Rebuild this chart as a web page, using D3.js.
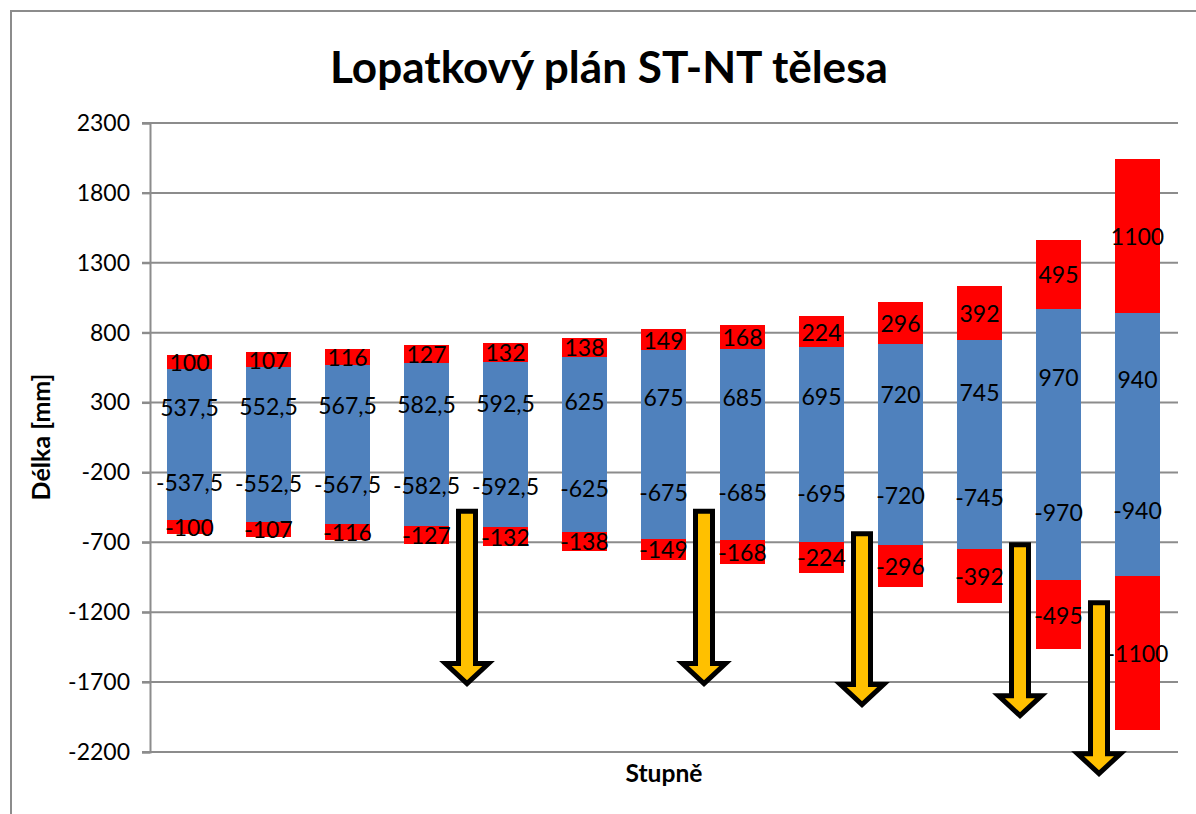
<!DOCTYPE html>
<html>
<head>
<meta charset="utf-8">
<script src="https://cdn.jsdelivr.net/npm/d3@7"></script>
<style>
  html, body { margin: 0; padding: 0; background: #fff; }
  svg { display: block; font-family: Lato, "Open Sans", sans-serif; }
</style>
</head>
<body>
<svg id="chart" width="1196" height="814"></svg>
<script>
// Stage numbers (no labels drawn on the category axis)
const stages = ["1", "2", "3", "4", "5", "6", "7", "8", "9", "10", "11", "12", "13"];
// Half-length of the blade body per stage [mm]
const bladeHalf = [537.5, 552.5, 567.5, 582.5, 592.5, 625, 675, 685, 695, 720, 745, 970, 940];
// Extension length per stage [mm]
const extension = [100, 107, 116, 127, 132, 138, 149, 168, 224, 296, 392, 495, 1100];
// Y axis ticks [mm]
const yTicks = [2300, 1800, 1300, 800, 300, -200, -700, -1200, -1700, -2200];
// Downward arrows: placed between two stages, from a top value to a tip value [mm]
const arrowAfter = ["4", "7", "9", "11", "12"];
const arrowTop = [-460, -460, -620, -700, -1115];
const arrowTip = [-1735, -1735, -1885, -1965, -2380];

const svg = d3.select("#chart");
const margin = { left: 150, right: 1178, top: 123, bottom: 752 };

const colors = { blueUp: "#4F81BD", redUp: "#FF0000", blueDown: "#4F81BD", redDown: "#FF0000" };

const rows = stages.map((s, i) => ({
  stage: s,
  blueUp: bladeHalf[i],
  redUp: extension[i],
  blueDown: -bladeHalf[i],
  redDown: -extension[i]
}));

const keys = ["blueUp", "redUp", "blueDown", "redDown"];
const series = d3.stack().keys(keys).offset(d3.stackOffsetDiverging)(rows);

const x = d3.scaleBand().domain(stages).range([margin.left, margin.right - 1]).paddingInner(0.42).paddingOuter(0.21);
const y = d3.scaleLinear().domain([-2200, 2300]).range([margin.bottom, margin.top]);

const fmt = d3.formatLocale({ decimal: ",", thousands: "", grouping: [3], currency: ["", ""], minus: "-" }).format("~f");

// Chart frame
svg.append("path")
  .attr("d", "M11,814 V11 H1196")
  .attr("fill", "none").attr("stroke", "#8c8c8c").attr("stroke-width", 2);

// Gridlines
svg.append("g").selectAll("line").data(yTicks).join("line")
  .attr("x1", margin.left - 8).attr("x2", margin.right)
  .attr("y1", d => y(d)).attr("y2", d => y(d))
  .attr("stroke", "#8c8c8c").attr("stroke-width", 2);

// Y axis
const yAxis = svg.append("g")
  .attr("transform", `translate(${margin.left},0)`)
  .call(d3.axisLeft(y).tickValues(yTicks).tickSize(8).tickPadding(12).tickFormat(fmt));
yAxis.select(".domain").attr("stroke", "#8c8c8c").attr("stroke-width", 2);
yAxis.selectAll(".tick line").attr("stroke", "#8c8c8c").attr("stroke-width", 2);
yAxis.selectAll(".tick text")
  .attr("font-family", "Lato, sans-serif").attr("font-size", 23).attr("fill", "#000");

// Bars
svg.append("g").attr("shape-rendering", "crispEdges")
  .selectAll("g").data(series).join("g")
  .attr("fill", d => colors[d.key])
  .selectAll("rect").data(d => d).join("rect")
  .attr("x", d => x(d.data.stage))
  .attr("width", x.bandwidth())
  .attr("y", d => y(Math.max(d[0], d[1])))
  .attr("height", d => Math.abs(y(d[0]) - y(d[1])));

// Arrows
const arrowData = arrowAfter.map((a, i) => ({ after: a, top: arrowTop[i], tip: arrowTip[i] }));
const sw = 5, hw = 8.5, hh = 21.5, headLen = 20;
svg.append("g").selectAll("path").data(arrowData).join("path")
  .attr("d", d => {
    const idx = stages.indexOf(d.after);
    const cx = (x(stages[idx]) + x.bandwidth() + x(stages[idx + 1])) / 2 + 1;
    const t = y(d.top) + sw / 2;
    const tip = y(d.tip) - 3.5;
    const hb = tip - headLen;
    return `M${cx - hw},${t} H${cx + hw} V${hb} H${cx + hh} L${cx},${tip} L${cx - hh},${hb} H${cx - hw} Z`;
  })
  .attr("fill", "#FFC000").attr("stroke", "#000").attr("stroke-width", sw)
  .attr("stroke-linejoin", "miter").attr("stroke-miterlimit", 10);

// Data labels
svg.append("g").selectAll("g").data(series).join("g")
  .selectAll("text").data(d => d.map(v => ({ v, key: d.key }))).join("text")
  .attr("x", d => x(d.v.data.stage) + x.bandwidth() / 2)
  .attr("y", d => y((d.v[0] + d.v[1]) / 2))
  .attr("text-anchor", "middle")
  .attr("dominant-baseline", "central")
  .attr("font-size", 23)
  .attr("fill", "#000")
  .text(d => fmt(d.v.data[d.key]));

// Title
const title = svg.append("text")
  .attr("x", 609).attr("y", 65)
  .attr("text-anchor", "middle").attr("dominant-baseline", "central")
  .attr("font-weight", "bold").attr("font-size", 44)
  .text("Lopatkový plán ST-NT tělesa");
const tw = title.node().getComputedTextLength();
title.attr("font-size", 44 * 558 / tw);

// Axis titles
const xt = svg.append("text")
  .attr("x", 664).attr("y", 772)
  .attr("text-anchor", "middle").attr("dominant-baseline", "central")
  .attr("font-weight", "bold").attr("font-size", 20)
  .text("Stupně");
xt.attr("font-size", 20 * 77 / xt.node().getComputedTextLength());

const yt = svg.append("text")
  .attr("transform", "translate(40,437) rotate(-90)")
  .attr("text-anchor", "middle").attr("dominant-baseline", "central")
  .attr("font-weight", "bold").attr("font-size", 20)
  .text("Délka [mm]");
yt.attr("font-size", 20 * 127 / yt.node().getComputedTextLength());
</script>
</body>
</html>
